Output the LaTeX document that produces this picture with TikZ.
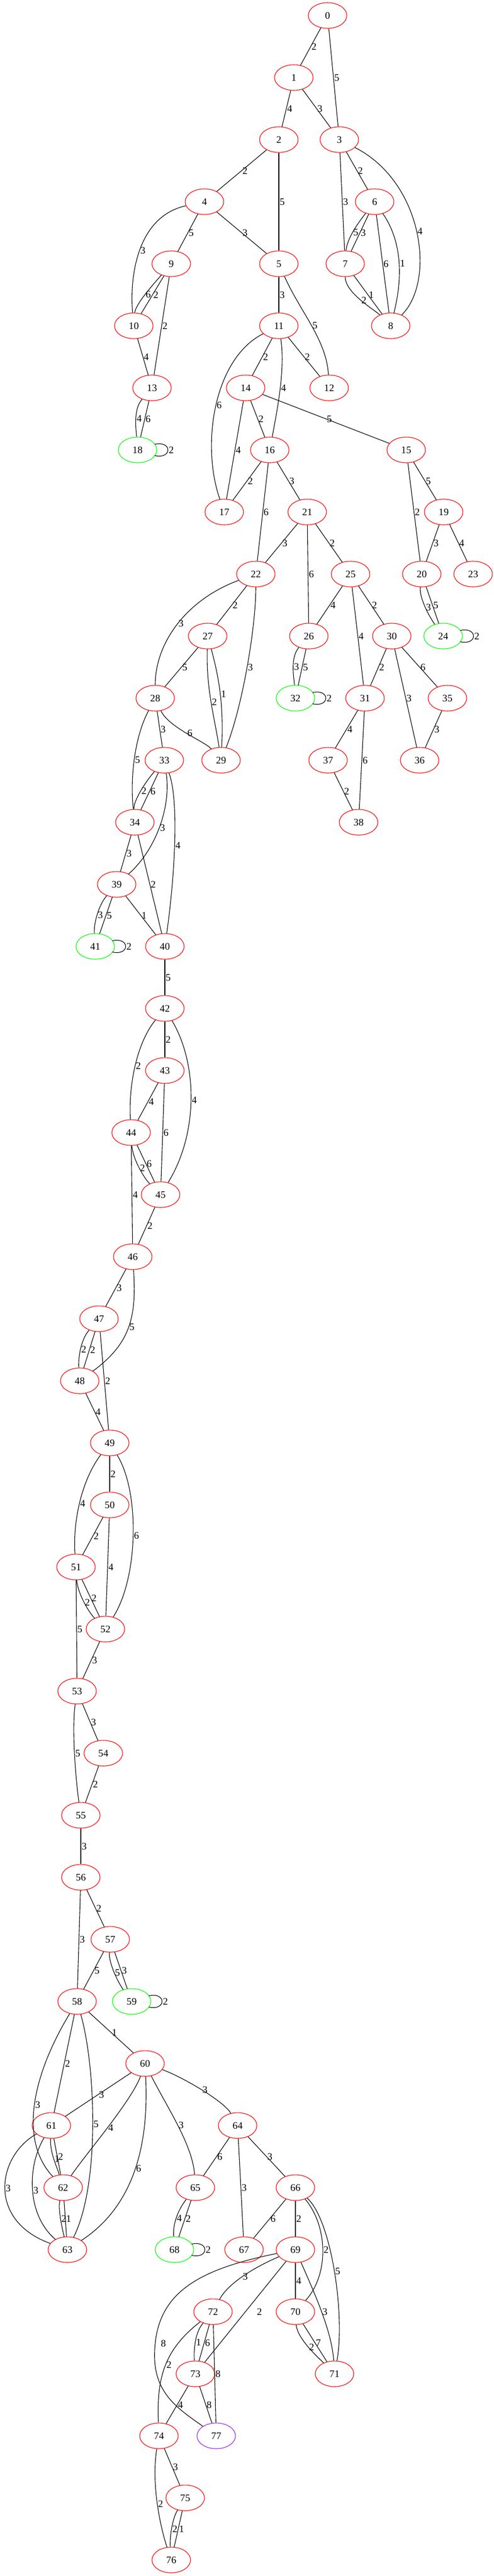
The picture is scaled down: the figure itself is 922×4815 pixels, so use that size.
\documentclass[tikz,border=0pt]{standalone}
\usepackage{fontspec}
\setmainfont{Liberation Serif}
\usetikzlibrary{shapes.geometric}
\definecolor{gvred}{RGB}{255,0,0}
\definecolor{gvgreen}{RGB}{0,255,0}
\definecolor{gvpurple}{RGB}{160,32,240}
\newcommand\gvfs{\fontsize{18.67}{20}\selectfont}
\newcommand\gvloop[1]{\draw[e] ([shift={(32,-10.5)}]#1.center) .. controls +(33,-7.5) and +(33,7.5) .. ([shift={(32,10.5)}]#1.center) node[lab,pos=.5]{2};}
\tikzset{
  nd/.style={ellipse, draw=gvred, line width=1.1pt, minimum width=72pt, minimum height=48pt, inner sep=0pt, font=\gvfs},
  ndg/.style={nd, draw=gvgreen},
  ndp/.style={nd, draw=gvpurple},
  e/.style={draw=black, line width=1.1pt},
  lab/.style={font=\gvfs, inner sep=1pt, anchor=west}
}
\begin{document}
\begin{tikzpicture}[x=1pt,y=-1pt]
\fill[white] (0,0) rectangle (922,4815);
\useasboundingbox (0,0) rectangle (922,4815);
% nodes
\node[nd] (n0) at (612,29) {0};
\node[nd] (n1) at (549,145) {1};
\node[nd] (n2) at (521,261) {2};
\node[nd] (n3) at (634,261) {3};
\node[nd] (n4) at (382,377) {4};
\node[nd] (n6) at (700,377) {6};
\node[nd] (n9) at (320,493) {9};
\node[nd] (n5) at (521,493) {5};
\node[nd] (n7) at (645,493) {7};
\node[nd] (n10) at (250,609) {10};
\node[nd] (n11) at (521,609) {11};
\node[nd] (n8) at (730,609) {8};
\node[nd] (n13) at (284,725) {13};
\node[nd] (n14) at (459,725) {14};
\node[nd] (n12) at (615,725) {12};
\node[ndg] (n18) at (257,841) {18};
\node[nd] (n16) at (504,841) {16};
\node[nd] (n15) at (759,841) {15};
\node[nd] (n17) at (419,957) {17};
\node[nd] (n21) at (574,957) {21};
\node[nd] (n19) at (829,957) {19};
\node[nd] (n22) at (478,1073) {22};
\node[nd] (n25) at (655,1073) {25};
\node[nd] (n20) at (788,1073) {20};
\node[nd] (n23) at (884,1073) {23};
\node[nd] (n27) at (388,1189) {27};
\node[nd] (n26) at (577,1189) {26};
\node[nd] (n30) at (732,1189) {30};
\node[ndg] (n24) at (828,1189) {24};
\node[nd] (n28) at (290,1305) {28};
\node[ndg] (n32) at (552,1305) {32};
\node[nd] (n31) at (682,1305) {31};
\node[nd] (n35) at (836,1305) {35};
\node[nd] (n33) at (307,1421) {33};
\node[nd] (n29) at (413,1421) {29};
\node[nd] (n37) at (613,1421) {37};
\node[nd] (n36) at (784,1421) {36};
\node[nd] (n34) at (252,1537) {34};
\node[nd] (n38) at (670,1537) {38};
\node[nd] (n39) at (218,1653) {39};
\node[ndg] (n41) at (178,1769) {41};
\node[nd] (n40) at (308,1769) {40};
\node[nd] (n42) at (308,1885) {42};
\node[nd] (n43) at (308,2001) {43};
\node[nd] (n44) at (245,2117) {44};
\node[nd] (n45) at (300,2233) {45};
\node[nd] (n46) at (248,2349) {46};
\node[nd] (n47) at (185,2465) {47};
\node[nd] (n48) at (149,2581) {48};
\node[nd] (n49) at (205,2697) {49};
\node[nd] (n50) at (205,2813) {50};
\node[nd] (n51) at (142,2929) {51};
\node[nd] (n52) at (197,3045) {52};
\node[nd] (n53) at (144,3161) {53};
\node[nd] (n54) at (193,3277) {54};
\node[nd] (n55) at (151,3393) {55};
\node[nd] (n56) at (151,3509) {56};
\node[nd] (n57) at (206,3625) {57};
\node[nd] (n58) at (144,3741) {58};
\node[ndg] (n59) at (246,3741) {59};
\node[nd] (n60) at (271,3857) {60};
\node[nd] (n61) at (96,3973) {61};
\node[nd] (n64) at (444,3973) {64};
\node[nd] (n62) at (118,4089) {62};
\node[nd] (n65) at (365,4089) {65};
\node[nd] (n66) at (552,4089) {66};
\node[nd] (n63) at (126,4205) {63};
\node[ndg] (n68) at (326,4205) {68};
\node[nd] (n67) at (456,4205) {67};
\node[nd] (n69) at (552,4205) {69};
\node[nd] (n72) at (398,4321) {72};
\node[nd] (n70) at (552,4321) {70};
\node[nd] (n73) at (365,4437) {73};
\node[nd] (n71) at (625,4437) {71};
\node[nd] (n74) at (297,4553) {74};
\node[ndp] (n77) at (404,4553) {77};
\node[nd] (n75) at (346,4669) {75};
\node[nd] (n76) at (320,4785) {76};
% straight edges
\draw[e] (n0) -- node[lab]{2} (n1);
\draw[e] (n0) -- node[lab]{5} (n3);
\draw[e] (n1) -- node[lab]{4} (n2);
\draw[e] (n1) -- node[lab]{3} (n3);
\draw[e] (n2) -- node[lab]{2} (n4);
\draw[e] (n2) -- node[lab]{5} (n5);
\draw[e] (n3) -- node[lab]{3} (n7);
\draw[e] (n3) -- node[lab]{2} (n6);
\draw[e] (n4) -- node[lab]{5} (n9);
\draw[e] (n4) -- node[lab]{3} (n5);
\draw[e] (n6) -- node[lab]{3} (n7);
\draw[e] (n6) -- node[lab]{6} (n8);
\draw[e] (n9) -- node[lab]{2} (n10);
\draw[e] (n9) -- node[lab]{2} (n13);
\draw[e] (n5) -- node[lab]{3} (n11);
\draw[e] (n7) -- node[lab]{1} (n8);
\draw[e] (n10) -- node[lab]{4} (n13);
\draw[e] (n11) -- node[lab]{2} (n14);
\draw[e] (n11) -- node[lab]{2} (n12);
\draw[e] (n13) -- node[lab]{6} (n18);
\draw[e] (n14) -- node[lab]{4} (n17);
\draw[e] (n14) -- node[lab]{2} (n16);
\draw[e] (n14) -- node[lab]{5} (n15);
\draw[e] (n16) -- node[lab]{2} (n17);
\draw[e] (n16) -- node[lab]{6} (n22);
\draw[e] (n16) -- node[lab]{3} (n21);
\draw[e] (n15) -- node[lab]{2} (n20);
\draw[e] (n15) -- node[lab]{5} (n19);
\draw[e] (n21) -- node[lab]{3} (n22);
\draw[e] (n21) -- node[lab]{6} (n26);
\draw[e] (n21) -- node[lab]{2} (n25);
\draw[e] (n19) -- node[lab]{3} (n20);
\draw[e] (n19) -- node[lab]{4} (n23);
\draw[e] (n22) -- node[lab]{2} (n27);
\draw[e] (n25) -- node[lab]{4} (n26);
\draw[e] (n25) -- node[lab]{4} (n31);
\draw[e] (n25) -- node[lab]{2} (n30);
\draw[e] (n20) -- node[lab]{5} (n24);
\draw[e] (n27) -- node[lab]{5} (n28);
\draw[e] (n26) -- node[lab]{5} (n32);
\draw[e] (n30) -- node[lab]{2} (n31);
\draw[e] (n30) -- node[lab]{3} (n36);
\draw[e] (n30) -- node[lab]{6} (n35);
\draw[e] (n28) -- node[lab]{3} (n33);
\draw[e] (n31) -- node[lab]{4} (n37);
\draw[e] (n31) -- node[lab]{6} (n38);
\draw[e] (n35) -- node[lab]{3} (n36);
\draw[e] (n37) -- node[lab]{2} (n38);
\draw[e] (n33) -- node[lab]{6} (n34);
\draw[e] (n34) -- node[lab]{3} (n39);
\draw[e] (n34) -- node[lab]{2} (n40);
\draw[e] (n39) -- node[lab]{5} (n41);
\draw[e] (n39) -- node[lab]{1} (n40);
\draw[e] (n40) -- node[lab]{5} (n42);
\draw[e] (n42) -- node[lab]{2} (n43);
\draw[e] (n43) -- node[lab]{4} (n44);
\draw[e] (n43) -- node[lab]{6} (n45);
\draw[e] (n44) -- node[lab]{6} (n45);
\draw[e] (n44) -- node[lab]{4} (n46);
\draw[e] (n45) -- node[lab]{2} (n46);
\draw[e] (n46) -- node[lab]{3} (n47);
\draw[e] (n47) -- node[lab]{2} (n48);
\draw[e] (n47) -- node[lab]{2} (n49);
\draw[e] (n48) -- node[lab]{4} (n49);
\draw[e] (n49) -- node[lab]{2} (n50);
\draw[e] (n50) -- node[lab]{2} (n51);
\draw[e] (n50) -- node[lab]{4} (n52);
\draw[e] (n51) -- node[lab]{2} (n52);
\draw[e] (n51) -- node[lab]{5} (n53);
\draw[e] (n52) -- node[lab]{3} (n53);
\draw[e] (n53) -- node[lab]{3} (n54);
\draw[e] (n54) -- node[lab]{2} (n55);
\draw[e] (n55) -- node[lab]{3} (n56);
\draw[e] (n56) -- node[lab]{3} (n58);
\draw[e] (n56) -- node[lab]{2} (n57);
\draw[e] (n57) -- node[lab]{5} (n58);
\draw[e] (n57) -- node[lab]{3} (n59);
\draw[e] (n58) -- node[lab]{2} (n61);
\draw[e] (n58) -- node[lab]{1} (n60);
\draw[e] (n60) -- node[lab]{3} (n61);
\draw[e] (n61) -- node[lab]{2} (n62);
\draw[e] (n62) -- node[lab]{1} (n63);
\draw[e] (n64) -- node[lab]{6} (n65);
\draw[e] (n64) -- node[lab]{3} (n67);
\draw[e] (n64) -- node[lab]{3} (n66);
\draw[e] (n65) -- node[lab]{2} (n68);
\draw[e] (n66) -- node[lab]{6} (n67);
\draw[e] (n66) -- node[lab]{2} (n69);
\draw[e] (n69) -- node[lab,xshift=20pt]{2} (n73);
\draw[e] (n69) -- node[lab]{4} (n70);
\draw[e] (n72) -- node[lab]{6} (n73);
\draw[e] (n72) -- node[lab]{8} (n77);
\draw[e] (n70) -- node[lab]{7} (n71);
\draw[e] (n73) -- node[lab]{4} (n74);
\draw[e] (n73) -- node[lab]{8} (n77);
\draw[e] (n74) -- node[lab]{3} (n75);
\draw[e] (n75) -- node[lab]{1} (n76);
% curved edges
\draw[e] (n3) .. controls (790,340) and (815,525) .. (n8) node[lab,pos=.5]{4};
\draw[e] (n6) .. controls +(-35,45) and +(3,-45) .. (n7) node[lab,pos=.5]{5};
\draw[e] (n6) .. controls +(55,80) and +(20,-80) .. (n8) node[lab,pos=.5]{1};
\draw[e] (n7) .. controls +(0,55) and +(-30,-30) .. (n8) node[lab,pos=.5]{2};
\draw[e] (n4) .. controls (255,405) and (242,520) .. (n10) node[lab,pos=.5]{3};
\draw[e] (n9) .. controls +(-35,40) and +(3,-40) .. (n10) node[lab,pos=.5]{6};
\draw[e] (n5) .. controls +(40,90) and +(-5,-90) .. (n12) node[lab,pos=.5]{5};
\draw[e] (n11) .. controls (400,670) and (375,830) .. (n17) node[lab,pos=.5]{6};
\draw[e] (n11) .. controls +(12,80) and +(15,-80) .. (n16) node[lab,pos=.5]{4};
\draw[e] (n13) .. controls +(-35,40) and +(-3,-40) .. (n18) node[lab,pos=.5]{4};
\draw[e] (n20) .. controls +(-5,45) and +(-25,-35) .. (n24) node[lab,pos=.5]{3};
\draw[e] (n22) .. controls (350,1120) and (290,1200) .. (n28) node[lab,pos=.5]{3};
\draw[e] (n22) .. controls +(0,100) and +(40,-100) .. (n29) node[lab,pos=.5]{3};
\draw[e] (n27) .. controls +(-3,100) and +(-12,-80) .. (n29) node[lab,pos=.5]{2};
\draw[e] (n27) .. controls +(22,80) and +(5,-100) .. (n29) node[lab,pos=.5]{1};
\draw[e] (n26) .. controls +(-35,40) and +(-3,-40) .. (n32) node[lab,pos=.5]{3};
\draw[e] (n28) .. controls (250,1380) and (243,1460) .. (n34) node[lab,pos=.5]{5};
\draw[e] (n28) .. controls +(25,55) and +(-30,-35) .. (n29) node[lab,pos=.5]{6};
\draw[e] (n33) .. controls +(-35,40) and +(-3,-40) .. (n34) node[lab,pos=.5]{2};
\draw[e] (n33) .. controls (320,1510) and (290,1590) .. (n39) node[lab,pos=.5]{3};
\draw[e] (n33) .. controls (336,1500) and (325,1650) .. (n40) node[lab,pos=.5]{4};
\draw[e] (n39) .. controls +(-35,40) and +(-3,-40) .. (n41) node[lab,pos=.5]{3};
\draw[e] (n42) .. controls (255,1950) and (240,2030) .. (n44) node[lab,pos=.5]{2};
\draw[e] (n42) .. controls (370,1990) and (370,2120) .. (n45) node[lab,pos=.5]{4};
\draw[e] (n44) .. controls +(3,50) and +(-30,-30) .. (n45) node[lab,pos=.5]{2};
\draw[e] (n46) .. controls (255,2460) and (245,2510) .. (n48) node[lab,pos=.5]{5};
\draw[e] (n47) .. controls +(-35,40) and +(-3,-40) .. (n48) node[lab,pos=.5]{2};
\draw[e] (n49) .. controls (150,2770) and (136,2850) .. (n51) node[lab,pos=.5]{4};
\draw[e] (n49) .. controls (262,2790) and (258,2950) .. (n52) node[lab,pos=.5]{6};
\draw[e] (n51) .. controls +(3,50) and +(-30,-30) .. (n52) node[lab,pos=.5]{2};
\draw[e] (n53) .. controls +(-10,70) and +(-10,-70) .. (n55) node[lab,pos=.5]{5};
\draw[e] (n57) .. controls +(-3,45) and +(-25,-35) .. (n59) node[lab,pos=.5]{5};
\draw[e] (n58) .. controls (60,3880) and (35,4000) .. (n62) node[lab,pos=.5]{3};
\draw[e] (n58) .. controls (178,3860) and (188,4080) .. (n63) node[lab,pos=.5]{5};
\draw[e] (n60) .. controls +(-25,70) and +(40,-60) .. (n62) node[lab,pos=.5]{4};
\draw[e] (n60) .. controls (278,4000) and (255,4120) .. (n63) node[lab,pos=.5]{6};
\draw[e] (n60) .. controls +(40,80) and +(-5,-80) .. (n65) node[lab,pos=.5]{3};
\draw[e] (n60) .. controls +(70,25) and +(-25,-45) .. (n64) node[lab,pos=.5]{3};
\draw[e] (n61) .. controls (-5,4030) and (-25,4150) .. (n63) node[lab,pos=.5]{3};
\draw[e] (n61) .. controls (50,4050) and (50,4140) .. (n63) node[lab,pos=.5]{3};
\draw[e] (n61) .. controls +(-3,50) and +(-12,-40) .. (n62) node[lab,pos=.5]{1};
\draw[e] (n62) .. controls +(-10,40) and +(-10,-40) .. (n63) node[lab,pos=.5]{2};
\draw[e] (n65) .. controls +(-35,45) and +(-3,-45) .. (n68) node[lab,pos=.5]{4};
\draw[e] (n66) .. controls (612,4160) and (616,4250) .. (n70) node[lab,pos=.5]{2};
\draw[e] (n66) .. controls (620,4150) and (645,4330) .. (n71) node[lab,pos=.5]{5};
\draw[e] (n69) .. controls (470,4240) and (425,4270) .. (n72) node[lab,pos=.5]{3};
\draw[e] (n69) .. controls (380,4240) and (300,4280) .. (290,4380) node[lab,xshift=9pt]{8} .. controls (280,4470) and (330,4500) .. (n77);
\draw[e] (n69) .. controls +(35,80) and +(-5,-80) .. (n71) node[lab,pos=.5]{3};
\draw[e] (n72) .. controls +(-35,40) and +(-3,-40) .. (n73) node[lab,pos=.5]{1};
\draw[e] (n72) .. controls (310,4390) and (292,4440) .. (n74) node[lab,pos=.5]{2};
\draw[e] (n70) .. controls +(3,50) and +(-30,-30) .. (n71) node[lab,pos=.5]{2};
\draw[e] (n74) .. controls +(-15,90) and +(-20,-60) .. (n76) node[lab,pos=.5]{2};
\draw[e] (n75) .. controls +(-25,40) and +(-3,-40) .. (n76) node[lab,pos=.5]{2};
% self loops
\gvloop{n18}
\gvloop{n24}
\gvloop{n32}
\gvloop{n41}
\gvloop{n59}
\gvloop{n68}
\end{tikzpicture}
\end{document}
